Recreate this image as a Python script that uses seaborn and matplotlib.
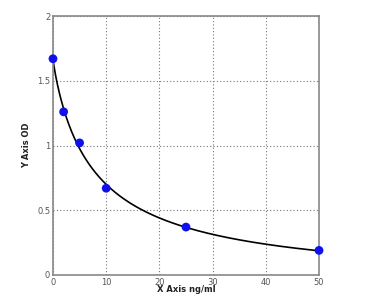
import numpy as np
import pandas as pd
import matplotlib
matplotlib.use("Agg")
import matplotlib.pyplot as plt
import seaborn as sns

conc = [0, 2, 5, 10, 25, 50]
od = [1.67, 1.26, 1.02, 0.67, 0.37, 0.19]
x_ticks = [0, 10, 20, 30, 40, 50]
y_ticks = [0, 0.5, 1, 1.5, 2]
y_tick_labels = ["0", "0.5", "1", "1.5", "2"]
x_label = "X Axis ng/ml"
y_label = "Y Axis OD"

sns.set_theme(style="white")
plt.rcParams["font.family"] = ["DejaVu Sans"]

df = pd.DataFrame({"conc": conc, "od": od})

# 4-parameter logistic fit via grid search (linear in a, d for fixed b, c)
xs = np.array(conc, float)
ys = np.array(od, float)
best = None
for c in np.linspace(1, 40, 391):
    for b in np.linspace(0.5, 3, 126):
        g = 1.0 / (1.0 + (xs / c) ** b)
        A = np.vstack([g, 1 - g]).T
        coef, *_ = np.linalg.lstsq(A, ys, rcond=None)
        r = np.sum((A @ coef - ys) ** 2)
        if best is None or r < best[0]:
            best = (r, c, b, coef)
_, c, b, (a, d) = best
xf = np.linspace(0, 50, 300)
yf = d + (a - d) / (1 + (xf / c) ** b)
fit = pd.DataFrame({"conc": xf, "od": yf})

fig = plt.figure(figsize=(3.75, 3.05), dpi=100)
ax = fig.add_axes([0.1413, 0.0984, 0.7094, 0.8491])
ax.set_facecolor("white")
sns.lineplot(data=fit, x="conc", y="od", ax=ax, color="black", linewidth=1.2)
sns.scatterplot(data=df, x="conc", y="od", ax=ax, color="#1010ee", s=40,
                edgecolor="none", zorder=5, clip_on=False)

ax.set_xlim(0, 50)
ax.set_ylim(0, 2)
ax.set_xticks(x_ticks)
ax.set_yticks(y_ticks)
ax.set_yticklabels(y_tick_labels)
ax.tick_params(axis="both", labelsize=6, colors="#555555", length=1, pad=1)
ax.grid(True, linestyle=(0, (1, 2)), color="#777777", linewidth=0.8)
for s in ax.spines.values():
    s.set_color("#888888")
    s.set_linewidth(1.2)
ax.set_xlabel(x_label, fontsize=6, fontweight="bold", color="#222222", labelpad=-1)
ax.set_ylabel(y_label, fontsize=6, fontweight="bold", color="#222222", labelpad=4)

fig.savefig("out.png", dpi=100)
